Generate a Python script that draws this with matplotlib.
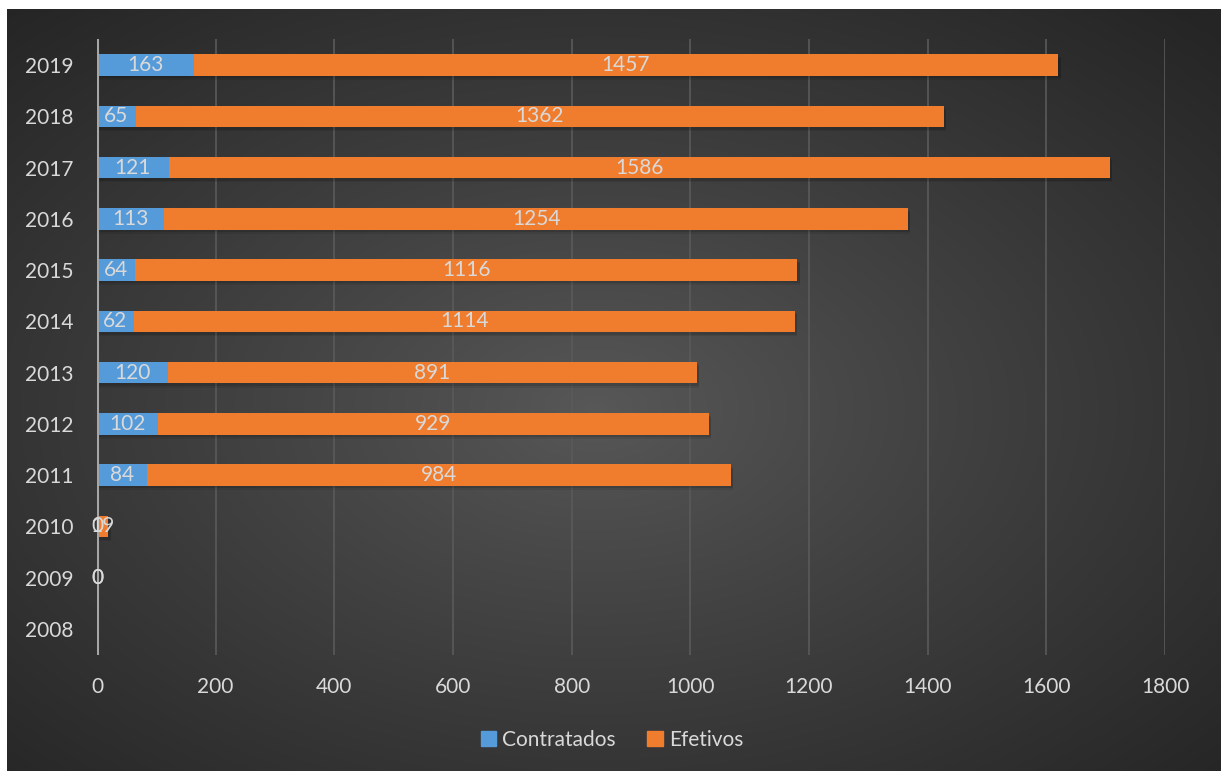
import numpy as np
import matplotlib
matplotlib.use('Agg')
import matplotlib.pyplot as plt
from matplotlib.patches import Patch

plt.rcParams['font.family'] = ['Lato', 'DejaVu Sans']

# dados
anos = ['2008', '2009', '2010', '2011', '2012', '2013', '2014', '2015', '2016', '2017', '2018', '2019']
contratados = [np.nan, 0, 0, 84, 102, 120, 62, 64, 113, 121, 65, 163]
efetivos = [np.nan, 0, 19, 984, 929, 891, 1114, 1116, 1254, 1586, 1362, 1457]
xticks = [0, 200, 400, 600, 800, 1000, 1200, 1400, 1600, 1800]

W, H = 1221, 771
fig = plt.figure(figsize=(W / 100, H / 100), dpi=100)
fig.patch.set_facecolor('white')

# fundo com gradiente radial
bg = fig.add_axes([7 / W, 0, 1 - 7 / W, 1 - 9 / H])
bg.set_axis_off()
yy, xx = np.mgrid[0:400, 0:640]
cx, cy = 310, 210
r = np.sqrt(((xx - cx) / 640) ** 2 + ((yy - cy) / 400) ** 2)
r = np.clip(r / 0.72, 0, 1)
c0, c1 = 0x58 / 255, 0x25 / 255
val = c0 + (c1 - c0) * r ** 0.9
img = np.dstack([val, val, val])
bg.imshow(img, aspect='auto', extent=[0, 1, 0, 1], interpolation='bilinear')

ax = fig.add_axes([97 / W, 1 - 654.6 / H, (1165 - 97) / W, (654.6 - 39.4) / H])
ax.patch.set_alpha(0)

y = np.arange(len(anos))
cont = np.nan_to_num(np.array(contratados, dtype=float))
efet = np.nan_to_num(np.array(efetivos, dtype=float))
h = 0.42

# sombra suave
for k, a in [(0.05, 0.12), (0.08, 0.08)]:
    ax.barh(y - k, cont + efet, height=h, left=4, color='black', alpha=a, linewidth=0, zorder=2)
b1 = ax.barh(y, cont, height=h, color='#559ad9', linewidth=0, zorder=3, label='Contratados')
b2 = ax.barh(y, efet, height=h, left=cont, color='#f07c2e', linewidth=0, zorder=3, label='Efetivos')

lab1 = ['' if np.isnan(v) else '%d' % v for v in contratados]
lab2 = ['' if np.isnan(v) else '%d' % v for v in efetivos]
ax.bar_label(b1, labels=lab1, label_type='center', color='#d9d9d9', fontsize=15, zorder=5)
ax.bar_label(b2, labels=lab2, label_type='center', color='#d9d9d9', fontsize=15, zorder=5)

ax.set_xlim(0, 1800)
ax.set_ylim(-0.5, len(anos) - 0.5)
ax.set_xticks(xticks)
ax.set_yticks(y)
ax.set_yticklabels(anos)
ax.tick_params(axis='both', length=0, labelsize=15, labelcolor='#d9d9d9')
ax.tick_params(axis='x', pad=16)
ax.tick_params(axis='y', pad=17)
for s in ax.spines.values():
    s.set_visible(False)
ax.grid(axis='x', color='#5a5a5a', linewidth=1.2, zorder=0)
ax.axvline(0, color='#a6a6a6', linewidth=2.2, zorder=4)

handles = [Patch(color='#559ad9', label='Contratados'), Patch(color='#f07c2e', label='Efetivos')]
fig.legend(handles=handles, loc='center', bbox_to_anchor=(612 / W, 1 - 740 / H), ncol=2,
           frameon=False, fontsize=15, labelcolor='#d9d9d9', handlelength=0.75, handleheight=0.75,
           handletextpad=0.3, columnspacing=1.5)

fig.savefig('out.png', dpi=100, facecolor=fig.get_facecolor())
